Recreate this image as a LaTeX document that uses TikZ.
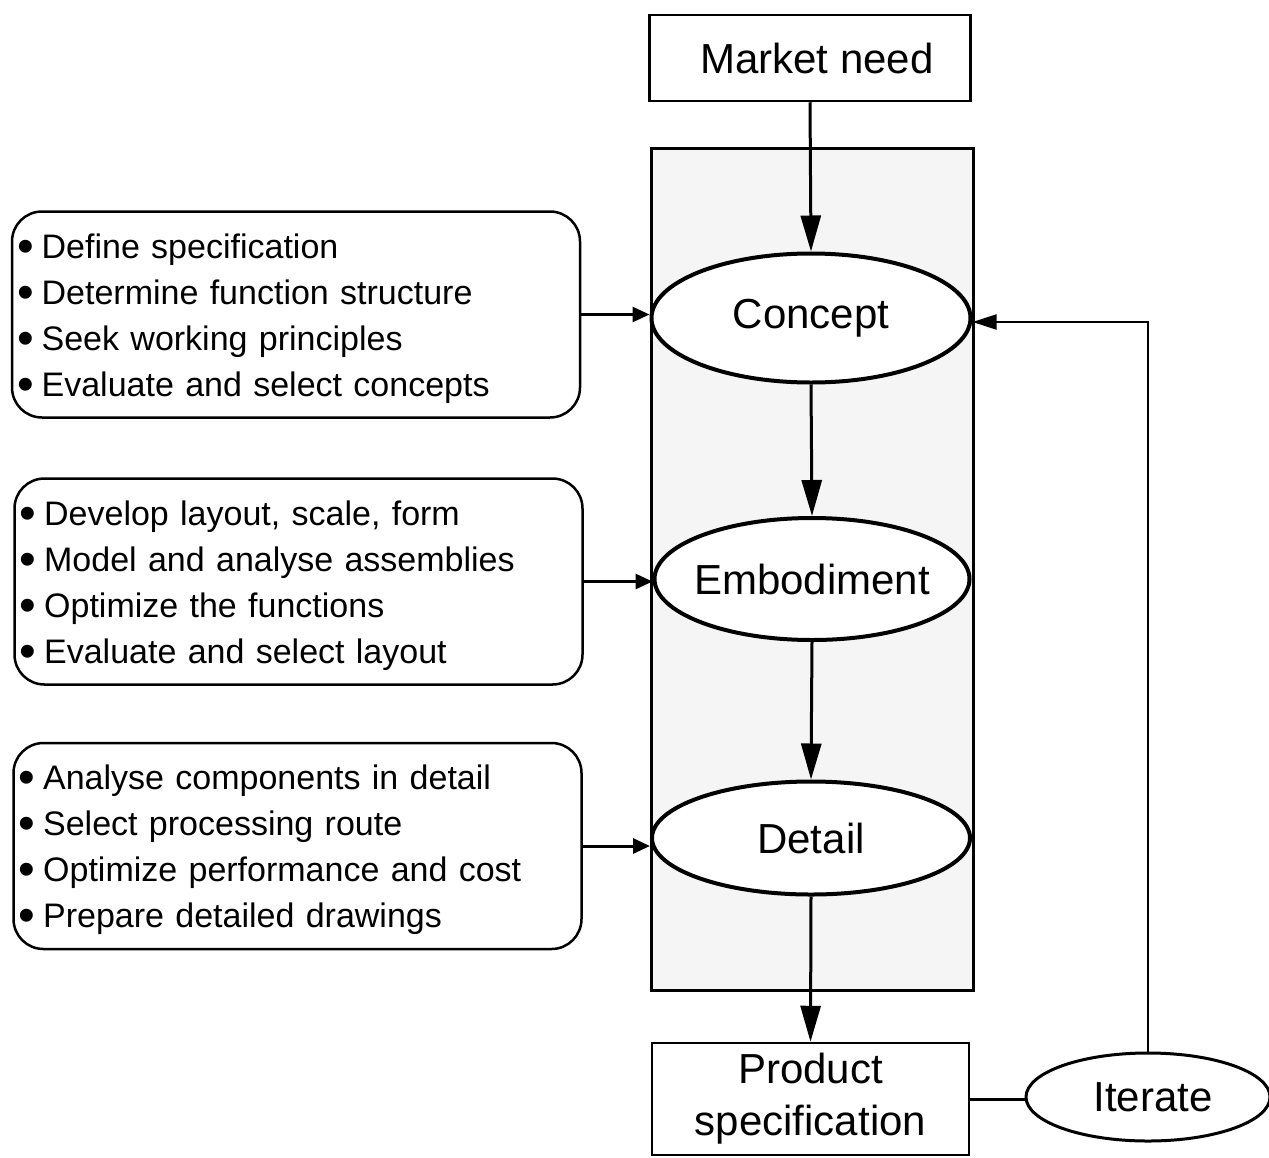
\documentclass[tikz,border=0pt]{standalone}
\usepackage{fontspec}
\setmainfont{Liberation Sans}
\usetikzlibrary{shapes.geometric,arrows.meta}
\newcommand\bigfont{\fontsize{42}{52}\selectfont}
\newcommand\listfont{\fontsize{34}{46}\selectfont}
% enlarged list bullet followed by a fixed gap
\newcommand\bul{\raisebox{-4pt}{\scalebox{1.4}{•}}\hspace{8pt}}
\newcommand\firstline{\rule{0pt}{33pt}}
\tikzset{
  stagebox/.style={draw, line width=3pt, fill=black!4, minimum width=322pt,
    minimum height=842pt, inner sep=0pt},
  termbox/.style={draw, line width=2.5pt, fill=white, inner sep=0pt,
    font=\bigfont, align=center},
  phase/.style={ellipse, draw, line width=4pt, fill=white, inner xsep=-40pt,
    inner ysep=0pt, font=\bigfont},
  taskbox/.style={draw, line width=2.5pt, rounded corners=30pt, fill=white,
    minimum height=206pt, inner xsep=5pt, text width=558pt, align=left,
    font=\listfont},
  flow/.style={line width=3pt, -{Triangle[length=36pt,width=20pt]}},
  feed/.style={line width=3pt, -{Triangle[length=17pt,width=15pt]}},
  loopline/.style={line width=2pt, -{Triangle[length=24pt,width=15pt]}},
}
\begin{document}
\begin{tikzpicture}[x=1pt, y=-1pt]
  \useasboundingbox (0,0) rectangle (1269,1157);
  \fill[white] (0,0) rectangle (1269,1157);

  % shaded design-stage column
  \node[stagebox] (stage) at (812,569) {};

  % start and end boxes
  \node[termbox, minimum width=321pt, minimum height=86pt] (market) at (810,58) {\hspace{14pt}Market need};
  \node[termbox, minimum width=317pt, minimum height=112pt] (product) at (810.5,1099) {Product\\specification};

  % design phases
  \node[phase, minimum width=319pt, minimum height=129pt] (concept) at (811,318) {Concept};
  \node[phase, minimum width=315pt, minimum height=122pt] (embod) at (812,579) {Embodiment};
  \node[phase, minimum width=318pt, minimum height=113pt] (detail) at (811,838) {Detail};

  % iteration
  \node[ellipse, draw, line width=3pt, fill=white, inner sep=0pt, font=\bigfont,
        minimum width=244pt, minimum height=88pt] (iter) at (1148,1097) {\hspace{10pt}Iterate};

  % task lists
  \node[taskbox] (tasks1) at (296,314.5) {%
    \firstline\bul Define specification\\
    \bul Determine function structure\\
    \bul Seek working principles\\
    \bul Evaluate and select concepts};
  \node[taskbox] (tasks2) at (298.5,581.5) {%
    \firstline\bul Develop layout, scale, form\\
    \bul Model and analyse assemblies\\
    \bul Optimize the functions\\
    \bul Evaluate and select layout};
  \node[taskbox] (tasks3) at (297.5,846) {%
    \firstline\bul Analyse components in detail\\
    \bul Select processing route\\
    \bul Optimize performance and cost\\
    \bul Prepare detailed drawings};

  % main flow
  \draw[flow] (market.south) -- (concept.north);
  \draw[flow] (concept.south) -- (embod.north);
  \draw[flow] (embod.south) -- (detail.north);
  \draw[flow] (detail.south) -- (product.north);

  % task lists feed the phases
  \draw[feed] (tasks1.east) -- (tasks1.east -| concept.west);
  \draw[feed] (tasks2.east) -- (tasks2.east -| embod.west);
  \draw[feed] (tasks3.east) -- (tasks3.east -| detail.west);

  % iteration loop
  \draw[line width=3pt] (product.east) -- (product.east -| iter.west);
  \draw[loopline] (iter.north) |- ([yshift=-4pt]concept.east);
\end{tikzpicture}
\end{document}
